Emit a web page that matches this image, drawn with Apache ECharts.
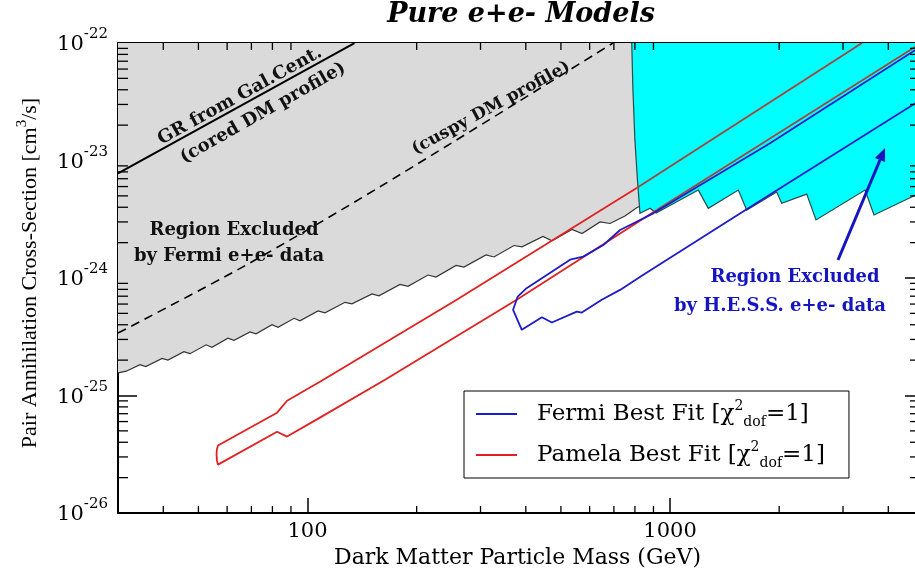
<!DOCTYPE html>
<html><head><meta charset="utf-8">
<script src="https://cdn.jsdelivr.net/npm/echarts@6/dist/echarts.min.js"></script>
<style>html,body{margin:0;padding:0;background:#fff}#c{width:915px;height:570px}</style>
</head><body><div id="c"></div>
<script>
// ---- axis ticks ----
const xMinorTicks = [40,50,60,70,80,90,200,300,400,500,600,700,800,900,2000,3000,4000];
const yMinorTicks = [2e-26,3e-26,4e-26,5e-26,6e-26,7e-26,8e-26,9e-26,
                     2e-25,3e-25,4e-25,5e-25,6e-25,7e-25,8e-25,9e-25,
                     2e-24,3e-24,4e-24,5e-24,6e-24,7e-24,8e-24,9e-24,
                     2e-23,3e-23,4e-23,5e-23,6e-23,7e-23,8e-23,9e-23];

// ---- curves: [mass (GeV), <sigma v> (cm^3/s)] ----
const grCored = [[30,7.77e-24],[134.7,1e-22]];
const grCuspy = [[30,3.40e-25],[66.5,1.25e-24],[158.5,5.98e-24],[696,1e-22]];

const fermiExcludedEdge = [[30,1.56e-25],[31.6,1.61e-25],[34.5,1.83e-25],[35.8,1.76e-25],[39.7,2.07e-25],[41.2,2.00e-25],
  [45.6,2.36e-25],[47.4,2.27e-25],[52.5,2.70e-25],[54.5,2.57e-25],[60.3,3.07e-25],[62.7,2.95e-25],[69.4,3.48e-25],
  [72.1,3.35e-25],[79.8,4.00e-25],[82.9,3.80e-25],[91.8,4.54e-25],[95.3,4.32e-25],[106.9,5.25e-25],[111.7,5.05e-25],
  [126.9,6.21e-25],[132.6,6.03e-25],[150.6,7.33e-25],[157.4,7.05e-25],[179.9,8.82e-25],[189.3,8.49e-25],[214.9,1.06e-24],
  [226.1,1.02e-24],[256.8,1.28e-24],[270.1,1.24e-24],[310.7,1.57e-24],[326.8,1.51e-24],[371.1,1.89e-24],[390.5,1.84e-24],
  [446.2,2.26e-24],[472.4,2.07e-24],[536.4,2.59e-24],[571.6,2.39e-24],[641,3.00e-24],[683,2.91e-24],[751,3.37e-24],
  [811,3.98e-24],[853,4.26e-24]];

const hessExcludedEdge = [[784,1e-22],[790,3.96e-23],[800,1.49e-23],[813,6.82e-24],[826,3.55e-24],[881,3.92e-24],
  [915,3.57e-24],[1197,5.60e-24],[1275,3.92e-24],[1543,5.60e-24],[1627,3.79e-24],[1969,5.39e-24],[2032,4.32e-24],
  [2382,5.18e-24],[2527,3.12e-24],[3451,5.60e-24],[3653,3.44e-24],[4800,5.15e-24]];

const pamelaFit = [[809,5.83e-24],[257.9,6.52e-25],[108.2,1.31e-25],[87.8,9.03e-26],[82.4,7.14e-26],[56.6,3.75e-26],
  [56.2,3.46e-26],[56.1,3.14e-26],[56.25,2.79e-26],[56.6,2.58e-26],[82.4,4.92e-26],[87.8,4.47e-26],[108.2,6.48e-26],
  [163.6,1.36e-25],[377.6,6.52e-25],[918.9,3.79e-24]];
const pamelaFitUnderHessUpper = [[809,5.83e-24],[3385,1e-22]];
const pamelaFitUnderHessLower = [[918.9,3.79e-24],[4740,9.25e-23]];

const fermiFit = [[4740,8.67e-23],[1887,1.40e-23],[899,3.55e-24],[806,3.00e-24],[728,2.56e-24],[655,1.91e-24],
  [576,1.52e-24],[530,1.43e-24],[402,8.19e-25],[380,6.95e-25],[369,5.36e-25],[390,3.62e-25],[443,4.64e-25],
  [472,4.18e-25],[553,5.18e-25],[571,5.08e-25],[648,6.52e-25],[728,7.92e-25],[842,1.06e-24],[1627,3.84e-24],
  [4740,3.06e-23]];

const X_MIN = 30, X_MAX = 4800, Y_MIN = 1e-26, Y_MAX = 1e-22;

const SERIF = '"DejaVu Serif", serif';
const TIMES = '"Liberation Serif", "Times New Roman", serif';
const RED = '#e32020', BLUE = '#1c1cc8', HESSBLUE = '#1515c0';

function isDecade(v){ const e = Math.log10(v); return Math.abs(e - Math.round(e)) < 1e-6; }

const chart = echarts.init(document.getElementById('c'), null, {renderer:'canvas', width:915, height:570});

function minorTickSeries(data, dir){
  return {
    type:'custom', silent:true, clip:false, z:20, animation:false,
    data: data,
    renderItem: function(params, api){
      const v = api.value(dir === 'x' ? 0 : 1);
      const st = {stroke:'#000', lineWidth:1.3};
      if (dir === 'x'){
        const b = api.coord([v, Y_MIN]), t = api.coord([v, Y_MAX]);
        return {type:'group', children:[
          {type:'line', shape:{x1:b[0],y1:b[1],x2:b[0],y2:b[1]-7}, style:st},
          {type:'line', shape:{x1:t[0],y1:t[1],x2:t[0],y2:t[1]+7}, style:st}]};
      } else {
        const l = api.coord([X_MIN, v]), r = api.coord([X_MAX, v]);
        return {type:'group', children:[
          {type:'line', shape:{x1:l[0],y1:l[1],x2:l[0]+10,y2:l[1]}, style:st},
          {type:'line', shape:{x1:r[0],y1:r[1],x2:r[0]-7,y2:r[1]}, style:st}]};
      }
    }
  };
}

// region above an edge curve, up to the top of the plot
function regionSeries(edge, fill, stroke, z){
  return {
    type:'custom', silent:true, z:z, animation:false, clip:true,
    data:[[100, 1e-24]],
    renderItem: function(params, api){
      const pts = edge.map(p => api.coord(p));
      const first = edge[0], last = edge[edge.length - 1];
      const poly = pts.concat([api.coord([last[0], Y_MAX]), api.coord([first[0], Y_MAX])]);
      return {type:'group', children:[
        {type:'polygon', shape:{points:poly}, style:{fill:fill, stroke:null}},
        {type:'polyline', shape:{points:pts}, style:{stroke:stroke, lineWidth:1.2, fill:null}}]};
    }
  };
}

const axisCommonX = {type:'log', logBase:10, min:X_MIN, max:X_MAX, splitLine:{show:false},
  axisLine:{show:true, onZero:false, lineStyle:{color:'#000', width:2}}};
const axisCommonY = {type:'log', logBase:10, min:0.9999e-26, max:1.0001e-22, splitLine:{show:false},
  axisLine:{show:true, onZero:false, lineStyle:{color:'#000', width:2}}};

chart.setOption({
  animation:false,
  backgroundColor:'#fff',
  title:{text:'Pure e+e- Models', left:521, top:1, textAlign:'center', padding:0,
    textStyle:{fontFamily:SERIF, fontStyle:'italic', fontWeight:'bold', fontSize:27, color:'#000'}},
  grid:{left:118, top:43, width:799, height:470, outerBoundsMode:'none', containLabel:false},
  legend:{
    orient:'vertical', left:464, top:391, padding:[8,24,8,12], itemGap:11, itemWidth:41, itemHeight:2,
    borderColor:'#000', borderWidth:1, backgroundColor:'#fff', borderRadius:0, selectedMode:false,
    data:[{name:'Fermi Best Fit', icon:'rect'},{name:'Pamela Best Fit', icon:'rect'}],
    formatter: n => `{a0|${n} [χ}{p|2}{q|dof}{a|=1]}`,
    textStyle:{rich:{
      a0:{fontFamily:SERIF, fontSize:23, lineHeight:30, color:'#000', padding:[0,0,0,15]},
      a:{fontFamily:SERIF, fontSize:23, lineHeight:30, color:'#000'},
      p:{fontFamily:SERIF, fontSize:14, lineHeight:14, color:'#000', verticalAlign:'top'},
      q:{fontFamily:SERIF, fontSize:14, lineHeight:14, color:'#000', verticalAlign:'bottom'}
    }}
  },
  xAxis:[
    Object.assign({}, axisCommonX, {position:'bottom',
      axisTick:{show:true, inside:true, length:15, lineStyle:{color:'#000', width:1.5}},
      axisLabel:{margin:8, color:'#000', fontFamily:SERIF, fontSize:21,
        formatter: v => isDecade(v) ? String(Math.round(v)) : ''},
      name:'Dark Matter Particle Mass (GeV)', nameLocation:'middle', nameGap:27,
      nameTextStyle:{fontFamily:SERIF, fontSize:22, color:'#000'}}),
    Object.assign({}, axisCommonX, {position:'top',
      axisTick:{show:true, inside:true, length:14, lineStyle:{color:'#000', width:1.5}},
      axisLabel:{show:false}})
  ],
  yAxis:[
    Object.assign({}, axisCommonY, {position:'left',
      axisTick:{show:true, inside:true, length:19, lineStyle:{color:'#000', width:1.5}},
      axisLabel:{margin:10, padding:[4,0,0,0], showMinLabel:true, showMaxLabel:true,
        formatter: v => isDecade(v) ? `{b|10}{s|${Math.round(Math.log10(v))}}` : '',
        rich:{b:{fontFamily:SERIF, fontSize:21, lineHeight:36, color:'#000'},
              s:{fontFamily:SERIF, fontSize:15, lineHeight:15, color:'#000', verticalAlign:'top'}}}}),
    Object.assign({}, axisCommonY, {position:'right',
      axisTick:{show:true, inside:true, length:12, lineStyle:{color:'#000', width:1.5}},
      axisLabel:{show:false}})
  ],
  series:[
    regionSeries(fermiExcludedEdge, '#dadada', '#333', 1),
    {name:'GR cored', type:'line', data:grCored, symbol:'none', z:3, lineStyle:{color:'#000', width:2}},
    {name:'GR cuspy', type:'line', data:grCuspy, symbol:'none', z:3, smooth:0.3,
      lineStyle:{color:'#000', width:1.6, type:[9,6]}},
    regionSeries(hessExcludedEdge, '#00ffff', '#2a4a4a', 4),
    {name:'Pamela Best Fit', type:'line', data:pamelaFit, symbol:'none', z:5, color:RED,
      lineStyle:{color:RED, width:1.8}},
    {name:'Pamela hidden upper', type:'line', data:pamelaFitUnderHessUpper, symbol:'none', z:5,
      lineStyle:{color:'#a3453e', width:1.8}},
    {name:'Pamela hidden lower', type:'line', data:pamelaFitUnderHessLower, symbol:'none', z:5,
      lineStyle:{color:'#a3453e', width:1.8}},
    {name:'Fermi Best Fit', type:'line', data:fermiFit, symbol:'none', z:6, color:BLUE,
      lineStyle:{color:BLUE, width:1.8}},
    minorTickSeries(xMinorTicks.map(v => [v, Y_MIN]), 'x'),
    minorTickSeries(yMinorTicks.map(v => [X_MIN, v]), 'y')
  ],
  graphic:[
    {type:'text', x:30, y:273, rotation:Math.PI / 2, z:100,
      style:{text:'{a|Pair Annihilation Cross-Section [cm}{s|3}{a|/s]}', align:'center', verticalAlign:'middle',
        rich:{a:{fontFamily:TIMES, fontSize:22, lineHeight:30, fill:'#000'},
              s:{fontFamily:TIMES, fontSize:15, lineHeight:15, fill:'#000', verticalAlign:'top'}}}},
    {type:'text', x:240, y:96, rotation:0.505, z:100,
      style:{text:'GR from Gal.Cent.', fontFamily:SERIF, fontWeight:'bold', fontSize:18, fill:'#111', align:'center', verticalAlign:'middle'}},
    {type:'text', x:263, y:113, rotation:0.515, z:100,
      style:{text:'(cored DM profile)', fontFamily:SERIF, fontWeight:'bold', fontSize:18, fill:'#111', align:'center', verticalAlign:'middle'}},
    {type:'text', x:491, y:108, rotation:0.5, z:100,
      style:{text:'(cuspy DM profile)', fontFamily:SERIF, fontWeight:'bold', fontSize:17, fill:'#111', align:'center', verticalAlign:'middle'}},
    {type:'text', x:234, y:230, z:100,
      style:{text:'Region Excluded', fontFamily:SERIF, fontWeight:'bold', fontSize:18, fill:'#111', align:'center', verticalAlign:'middle'}},
    {type:'text', x:229, y:256, z:100,
      style:{text:'by Fermi e+e- data', fontFamily:SERIF, fontWeight:'bold', fontSize:18, fill:'#111', align:'center', verticalAlign:'middle'}},
    {type:'text', x:795, y:277, z:100,
      style:{text:'Region Excluded', fontFamily:SERIF, fontWeight:'bold', fontSize:18, fill:HESSBLUE, align:'center', verticalAlign:'middle'}},
    {type:'text', x:780, y:306, z:100,
      style:{text:'by H.E.S.S. e+e- data', fontFamily:SERIF, fontWeight:'bold', fontSize:18, fill:HESSBLUE, align:'center', verticalAlign:'middle'}},
    {type:'line', z:100, shape:{x1:838, y1:260, x2:880, y2:160}, style:{stroke:HESSBLUE, lineWidth:3}},
    {type:'polygon', z:100, shape:{points:[[885,148],[885.1,162.1],[874.9,157.9]]}, style:{fill:HESSBLUE}}
  ]
});
</script></body></html>
